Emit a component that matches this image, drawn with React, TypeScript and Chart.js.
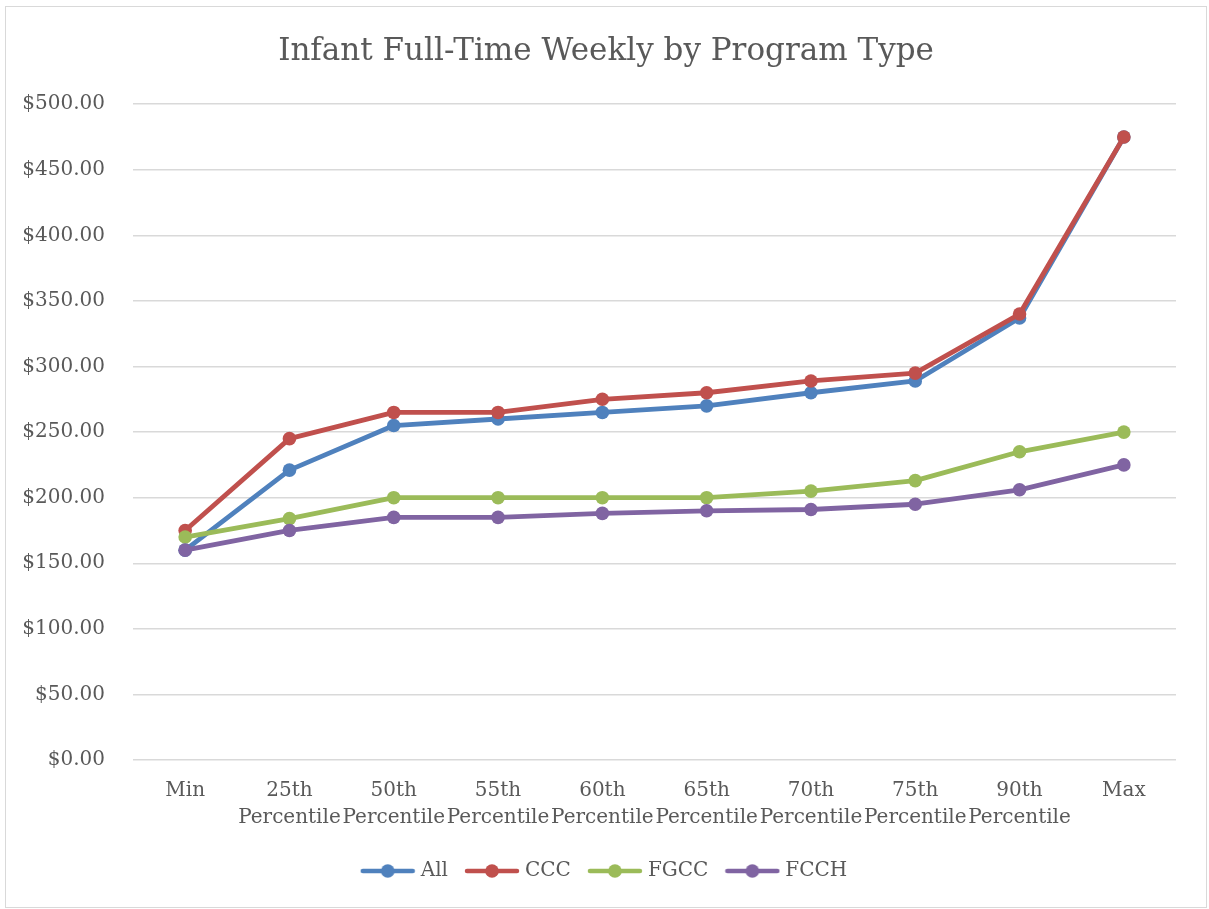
import React, { useEffect, useRef } from "react";
import { Chart, registerables } from "chart.js";

Chart.register(...registerables);

const categories: string[][] = [
  ["Min"],
  ["25th", "Percentile"],
  ["50th", "Percentile"],
  ["55th", "Percentile"],
  ["60th", "Percentile"],
  ["65th", "Percentile"],
  ["70th", "Percentile"],
  ["75th", "Percentile"],
  ["90th", "Percentile"],
  ["Max"],
];

const seriesNames = ["All", "CCC", "FGCC", "FCCH"];
const allValues = [160, 221, 255, 260, 265, 270, 280, 289, 337, 475];
const cccValues = [175, 245, 265, 265, 275, 280, 289, 295, 340, 475];
const fgccValues = [170, 184, 200, 200, 200, 200, 205, 213, 235, 250];
const fcchValues = [160, 175, 185, 185, 188, 190, 191, 195, 206, 225];
const seriesColors = ["#4f81bd", "#c0504d", "#9bbb59", "#8064a2"];

const yMin = 0;
const yMax = 500;
const yStep = 50;

const FONT = "'DejaVu Serif', serif";
const TEXT = "#595959";

function makeIcon(color: string): HTMLCanvasElement {
  const c = document.createElement("canvas");
  c.width = 56;
  c.height = 16;
  const ctx = c.getContext("2d")!;
  ctx.strokeStyle = color;
  ctx.lineWidth = 4.5;
  ctx.lineCap = "round";
  ctx.beginPath();
  ctx.moveTo(3, 8);
  ctx.lineTo(53, 8);
  ctx.stroke();
  ctx.fillStyle = color;
  ctx.beginPath();
  ctx.arc(28, 8, 6.8, 0, Math.PI * 2);
  ctx.fill();
  return c;
}

export default function App() {
  const ref = useRef<HTMLCanvasElement | null>(null);

  useEffect(() => {
    if (!ref.current) return;
    const values = [allValues, cccValues, fgccValues, fcchValues];
    const icons = seriesColors.map(makeIcon);
    const chart = new Chart(ref.current, {
      type: "line",
      data: {
        labels: categories,
        datasets: seriesNames.map((name, i) => ({
          label: name,
          data: values[i],
          yAxisID: "y",
          borderColor: seriesColors[i],
          backgroundColor: seriesColors[i],
          borderWidth: 4.8,
          pointRadius: 6.8,
          pointHoverRadius: 6.8,
          pointBorderWidth: 0,
          pointBackgroundColor: seriesColors[i],
          tension: 0,
          fill: false,
          order: seriesNames.length - i,
          borderCapStyle: "round" as const,
          borderJoinStyle: "round" as const,
        })),
      },
      options: {
        animation: false,
        responsive: false,
        devicePixelRatio: 1,
        layout: { padding: { left: 0, right: 0, top: 0, bottom: 16 } },
        plugins: {
          title: {
            display: true,
            text: "Infant Full-Time Weekly by Program Type",
            color: TEXT,
            font: { family: FONT, size: 31, weight: "normal" as const, lineHeight: 1.2 },
            padding: { top: 26, bottom: 34 },
          },
          legend: {
            position: "bottom",
            labels: {
              usePointStyle: true,
              pointStyleWidth: 46,
              padding: 21,
              color: TEXT,
              font: { family: FONT, size: 20 },
              generateLabels: (ch: any) =>
                ch.data.datasets.map((ds: any, i: number) => ({
                  text: ds.label,
                  fillStyle: ds.borderColor,
                  strokeStyle: ds.borderColor,
                  lineWidth: 0,
                  pointStyle: icons[i],
                  hidden: false,
                  datasetIndex: i,
                  fontColor: TEXT,
                })),
            },
          },
          tooltip: { enabled: false },
        },
        scales: {
          x: {
            type: "category",
            offset: true,
            grid: { display: false, drawTicks: false, offset: true },
            border: { display: false },
            ticks: {
              color: TEXT,
              font: { family: FONT, size: 20, lineHeight: 1.35 },
              padding: 17,
              autoSkip: false,
              maxRotation: 0,
              minRotation: 0,
            },
            afterFit: (s: any) => {
              s.height = 80;
            },
          },
          y: {
            position: "left",
            min: yMin,
            max: yMax,
            grid: { color: "#d9d9d9", lineWidth: 1.5, drawTicks: false },
            border: { display: false },
            ticks: {
              stepSize: yStep,
              color: TEXT,
              font: { family: FONT, size: 20 },
              padding: 28,
              callback: (v: any) => "$" + Number(v).toFixed(2),
            },
            afterFit: (s: any) => {
              s.width = 127;
            },
          },
          yRightSpace: {
            type: "linear",
            position: "right",
            display: true,
            min: yMin,
            max: yMax,
            grid: { display: false, drawTicks: false },
            border: { display: false },
            ticks: { display: false },
            afterFit: (s: any) => {
              s.width = 30;
            },
          },
        },
      },
    });
    return () => chart.destroy();
  }, []);

  return (
    <div
      style={{
        position: "absolute",
        left: 5,
        top: 6,
        width: 1202,
        height: 902,
        boxSizing: "border-box",
        border: "1px solid #d9d9d9",
        background: "#fff",
      }}
    >
      <canvas ref={ref} width={1200} height={900} style={{ width: 1200, height: 900, display: "block" }} />
    </div>
  );
}
